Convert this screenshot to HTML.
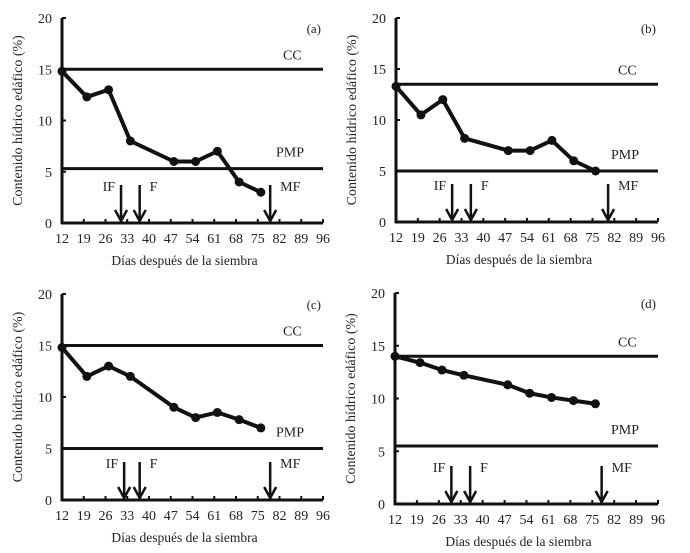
<!DOCTYPE html>
<html><head><meta charset="utf-8">
<style>
body{margin:0;background:#fff;}
svg{display:block;font-family:"Liberation Serif",serif;}
</style></head>
<body>
<svg id="chart" width="690" height="553"></svg>
<script>
const dayTicks=[12,19,26,33,40,47,54,61,68,75,82,89,96];
const yTicks=[0,5,10,15,20];
const panelNames=["a","b","c","d"];
const days=[12,20,27,34,48,55,62,69,76];
const seriesA=[14.8,12.3,13,8,6,6,7,4,3];
const seriesB=[13.3,10.5,12,8.2,7,7,8,6,5];
const seriesC=[14.8,12,13,12,9,8,8.5,7.8,7];
const seriesD=[14,13.4,12.7,12.2,11.3,10.5,10.1,9.8,9.5];
const ccValues=[15,13.5,15,14];
const pmpValues=[5.3,5,5,5.5];
const arrowIF=[31,30,32,30];
const arrowF=[37,36,37,36];
const arrowMF=[79,80,79,78];
const allSeries=[seriesA,seriesB,seriesC,seriesD];
const frames=[{x0:62,x1:323,y0:223,y1:18},{x0:396,x1:658,y0:222,y1:18},{x0:62,x1:323,y0:500,y1:294},{x0:395,x1:658,y0:504,y1:293}];
const svg=document.getElementById('chart');
const NS='http://www.w3.org/2000/svg';
function mk(tag,attrs,parent,text){const e=document.createElementNS(NS,tag);for(const k in attrs)e.setAttribute(k,attrs[k]);if(text!==undefined)e.textContent=text;(parent||svg).appendChild(e);return e;}
frames.forEach((f,i)=>{
  const g=mk('g',{});
  
  
  const sx=d=>f.x0+(d-12)/84*(f.x1-f.x0);
  const sy=v=>f.y0+v/20*(f.y1-f.y0);
  const ya=mk('line',{x1:f.x0,y1:f.y0+1,x2:f.x0,y2:f.y1,stroke:'#111','stroke-width':3},g);
  
  const xa=mk('line',{x1:f.x0-1,y1:f.y0,x2:f.x1,y2:f.y0,stroke:'#111','stroke-width':3},g);
  
  dayTicks.forEach(d=>{
    mk('line',{x1:sx(d),y1:f.y0,x2:sx(d),y2:f.y0-4,stroke:'#111','stroke-width':2},g);
    const t=mk('text',{x:sx(d),y:f.y0+20,'text-anchor':'middle','font-size':14,fill:'#222'},g,d);
    
  });
  yTicks.forEach(v=>{
    mk('line',{x1:f.x0,y1:sy(v),x2:f.x0+4,y2:sy(v),stroke:'#111','stroke-width':2},g);
    const t=mk('text',{x:f.x0-10,y:sy(v)+5,'text-anchor':'end','font-size':14,fill:'#222'},g,v);
    
  });
  const xt=mk('text',{x:(f.x0+f.x1)/2-8,y:f.y0+42,'text-anchor':'middle','font-size':13.5,fill:'#222'},g,'Días después  de la siembra');
  
  const cy=(f.y0+f.y1)/2;
  const yt=mk('text',{x:f.x0-40,y:cy,'text-anchor':'middle','font-size':14,fill:'#222',transform:`rotate(-90 ${f.x0-40} ${cy})`},g,'Contenido hídrico edáfico (%)');
  
  const pl=mk('text',{x:f.x1-2,y:f.y1+15,'text-anchor':'end','font-size':13,fill:'#222'},g,'('+panelNames[i]+')');
  
  const cc=mk('line',{x1:f.x0,y1:sy(ccValues[i]),x2:f.x1,y2:sy(ccValues[i]),stroke:'#111','stroke-width':3},g);
  
  const cct=mk('text',{x:f.x1-40,y:sy(ccValues[i])-10,'font-size':14,fill:'#222'},g,'CC');
  
  const pm=mk('line',{x1:f.x0,y1:sy(pmpValues[i]),x2:f.x1,y2:sy(pmpValues[i]),stroke:'#111','stroke-width':3},g);
  
  const pmt=mk('text',{x:f.x1-47,y:sy(pmpValues[i])-12,'font-size':14,fill:'#222'},g,'PMP');
  
  [[arrowIF[i],'IF',-1],[arrowF[i],'F',1],[arrowMF[i],'MF',1]].forEach(([d,lab,side])=>{
    const x=sx(d),top=f.y0-38,bot=f.y0-2;
    const a=mk('g',{},g);
    
    mk('line',{x1:x,y1:top,x2:x,y2:bot-3,stroke:'#111','stroke-width':2.5},a);
    mk('path',{d:`M${x-6} ${bot-11} L${x} ${bot} L${x+6} ${bot-11}`,fill:'none',stroke:'#111','stroke-width':2.5},a);
    mk('text',{x:side<0?x-6:x+10,y:top+6,'text-anchor':side<0?'end':'start','font-size':14,fill:'#222'},a,lab);
  });
  const s=allSeries[i];
  const pts=days.map((d,k)=>sx(d)+','+sy(s[k])).join(' ');
  const line=mk('polyline',{points:pts,fill:'none',stroke:'#111','stroke-width':4,'stroke-linejoin':'round'},g);
  
  days.forEach((d,k)=>{
    const c=mk('circle',{cx:sx(d),cy:sy(s[k]),r:4.5,fill:'#111'},g);
    
  });
});
</script>
</body></html>
